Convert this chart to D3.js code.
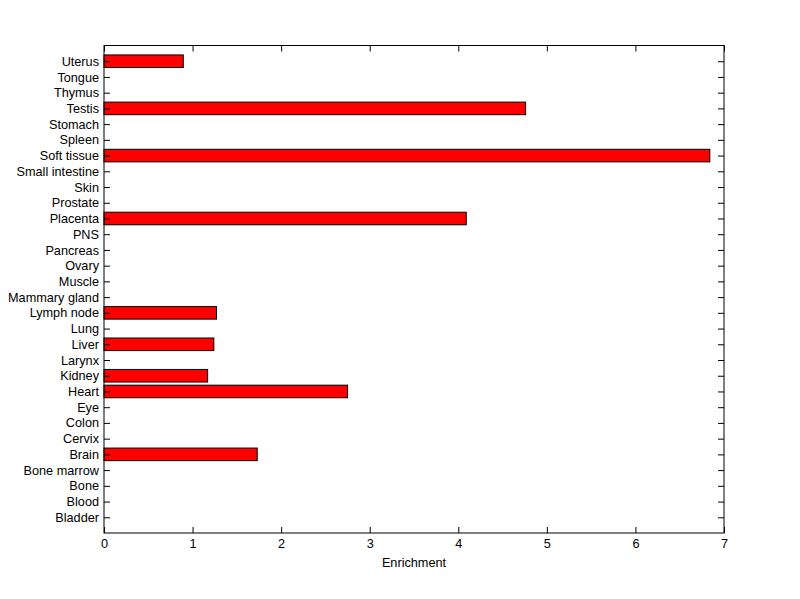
<!DOCTYPE html>
<html>
<head>
<meta charset="utf-8">
<script src="https://cdn.jsdelivr.net/npm/d3@7"></script>
<style>
body { margin: 0; background: #fff; }
svg text { font-family: "Liberation Sans", Arial, sans-serif; font-size: 12.7px; fill: #000; }
</style>
</head>
<body>
<svg class="barchart" width="800" height="599"></svg>
<script>
// categories bottom to top
var tissues = ["Bladder", "Blood", "Bone", "Bone marrow", "Brain", "Cervix", "Colon", "Eye", "Heart",
		"Kidney", "Larynx", "Liver", "Lung", "Lymph node", "Mammary gland", "Muscle", "Ovary", "Pancreas",
		"PNS", "Placenta", "Prostate", "Skin", "Small intestine", "Soft tissue", "Spleen", "Stomach",
		"Testis", "Thymus", "Tongue", "Uterus"];
var enrichment = [0, 0, 0, 0, 1.73, 0, 0, 0, 2.75,
		1.17, 0, 1.24, 0, 1.27, 0, 0, 0, 0,
		0, 4.09, 0, 0, 0, 6.84, 0, 0,
		4.76, 0, 0, 0.895];
var xTicks = [0, 1, 2, 3, 4, 5, 6, 7];

var svg = d3.select(".barchart"),
		margin = {top: 45.5, right: 76, bottom: 66, left: 104},
		width = svg.attr("width") - margin.left - margin.right,
		height = svg.attr("height") - margin.top - margin.bottom,
		g = svg.append("g").attr("transform", "translate(" + margin.left + "," + margin.top + ")");

var data = tissues.map(function(t, i) { return {name: t, pos: i + 1, value: enrichment[i]}; });

var x = d3.scaleLinear().domain([0, 7]).range([0, width]),
		y = d3.scaleLinear().domain([0, tissues.length + 1]).range([height, 0]);

var barH = 0.8 * (y(0) - y(1));

// bars (zero-valued ones are left out, like matlab draws nothing visible)
g.selectAll(".bar")
	.data(data.filter(function(d) { return d.value > 0; }))
	.enter().append("rect")
		.attr("class", "bar")
		.attr("x", x(0))
		.attr("y", function(d) { return y(d.pos) - barH / 2; })
		.attr("width", function(d) { return x(d.value) - x(0); })
		.attr("height", barH)
		.style("fill", "#ff0000")
		.style("stroke", "#000")
		.style("stroke-width", 1);

// box
g.append("rect")
		.attr("width", width)
		.attr("height", height)
		.style("fill", "none")
		.style("stroke", "#000")
		.style("stroke-width", 1);

var tickLen = 6;

var xAxis = g.append("g")
		.attr("transform", "translate(0," + height + ")")
		.call(d3.axisBottom(x).tickValues(xTicks).tickFormat(d3.format("d")).tickSizeInner(-tickLen).tickSizeOuter(0).tickPadding(6));
xAxis.select(".domain").remove();

var xTop = g.append("g")
		.call(d3.axisTop(x).tickValues(xTicks).tickSizeInner(-tickLen).tickSizeOuter(0).tickFormat(""));
xTop.select(".domain").remove();

var yAxis = g.append("g")
		.call(d3.axisLeft(y).tickValues(data.map(function(d) { return d.pos; }))
			.tickFormat(function(p) { return tissues[p - 1]; })
			.tickSizeInner(-tickLen).tickSizeOuter(0).tickPadding(5));
yAxis.select(".domain").remove();

var yRight = g.append("g")
		.attr("transform", "translate(" + width + ",0)")
		.call(d3.axisRight(y).tickValues(data.map(function(d) { return d.pos; })).tickSizeInner(-tickLen).tickSizeOuter(0).tickFormat(""));
yRight.select(".domain").remove();

g.selectAll(".tick line").style("stroke", "#000");
g.selectAll(".tick text").style("font-size", "12.7px").style("font-family", "'Liberation Sans', Arial, sans-serif");

g.append("text")
		.attr("x", width / 2)
		.attr("y", height + 34)
		.attr("text-anchor", "middle")
		.text("Enrichment");
</script>
</body>
</html>
